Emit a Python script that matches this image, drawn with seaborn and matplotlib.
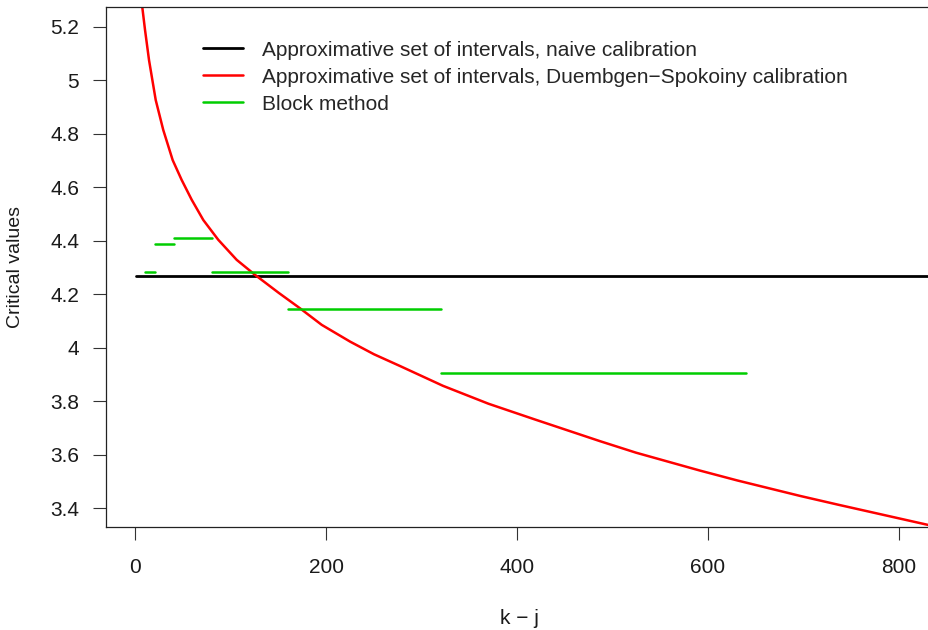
import matplotlib
matplotlib.use("Agg")
import matplotlib.pyplot as plt
from matplotlib.lines import Line2D
import seaborn as sns
import pandas as pd

# ---- data ----
ds_x = [5, 7.1, 10.0, 14.2, 21.2, 29.1, 39.0, 48.4, 58.9, 71.1, 86.8, 106.1,
        125.3, 150.0, 172.4, 195.2, 225.1, 250.0, 277.3, 322.3, 370.0, 418.8,
        486.9, 524.6, 591.7, 630.9, 696.9, 737.0, 831.8, 840]
ds_y = [5.34, 5.274, 5.188, 5.075, 4.926, 4.814, 4.701, 4.627, 4.553, 4.477,
        4.403, 4.328, 4.272, 4.205, 4.147, 4.085, 4.022, 3.975, 3.931, 3.857,
        3.790, 3.731, 3.650, 3.607, 3.540, 3.503, 3.445, 3.412, 3.336, 3.330]

naive_x = [1, 840]
naive_y = [4.267, 4.267]

block_start = [10, 20, 40, 80, 160, 320]
block_end = [20, 40, 80, 160, 320, 640]
block_val = [4.281, 4.386, 4.409, 4.281, 4.146, 3.904]

x_ticks = [0, 200, 400, 600, 800]
y_ticks = [3.4, 3.6, 3.8, 4.0, 4.2, 4.4, 4.6, 4.8, 5.0, 5.2]
y_tick_labels = ["3.4", "3.6", "3.8", "4", "4.2", "4.4", "4.6", "4.8", "5", "5.2"]

legend_labels = [
    "Approximative set of intervals, naive calibration",
    "Approximative set of intervals, Duembgen\u2212Spokoiny calibration",
    "Block method",
]

RED = "#FF0000"
GREEN = "#00CD00"
BLACK = "#000000"
FS = 15

sns.set_style("white")
plt.rcParams["font.family"] = ["Liberation Sans", "DejaVu Sans"]
plt.rcParams["font.size"] = FS

W, H = 929, 630
fig = plt.figure(figsize=(W / 100, H / 100), dpi=100)
left_px, right_px, top_px, bot_px = 106, 932, 7, 527
ax = fig.add_axes([left_px / W, 1 - bot_px / H, (right_px - left_px) / W,
                   (bot_px - top_px) / H])

df_ds = pd.DataFrame({"x": ds_x, "y": ds_y})
df_naive = pd.DataFrame({"x": naive_x, "y": naive_y})
seg_rows = []
for i, (s, e, v) in enumerate(zip(block_start, block_end, block_val)):
    seg_rows.append({"x": s, "y": v, "seg": i})
    seg_rows.append({"x": e, "y": v, "seg": i})
df_block = pd.DataFrame(seg_rows)

sns.lineplot(data=df_naive, x="x", y="y", color=BLACK, lw=2.0, ax=ax,
             estimator=None, sort=False)
sns.lineplot(data=df_ds, x="x", y="y", color=RED, lw=1.8, ax=ax,
             estimator=None, sort=False)
sns.lineplot(data=df_block, x="x", y="y", units="seg", color=GREEN, lw=1.8,
             ax=ax, estimator=None, sort=False)

ax.set_xlim(-30.9, 834.9)
ax.set_ylim(3.329, 5.2737)
ax.set_xticks(x_ticks)
ax.set_xticklabels([str(t) for t in x_ticks])
ax.set_yticks(y_ticks)
ax.set_yticklabels(y_tick_labels)
ax.set_xlabel("")
ax.set_ylabel("")

for sp in ax.spines.values():
    sp.set_visible(True)
    sp.set_color("#222222")
    sp.set_linewidth(0.9)

ax.tick_params(axis="both", which="both", direction="out", length=9.4,
               width=0.8, color="#333333", labelsize=FS, labelcolor="#1a1a1a",
               left=True, bottom=True)
ax.tick_params(axis="y", pad=10)
ax.tick_params(axis="x", pad=13)

fig.text(16 / W, 1 - ((top_px + bot_px) / 2) / H, "Critical values",
         rotation=90, ha="center", va="center", fontsize=14, color="#1a1a1a")
fig.text(519 / W, 1 - 618 / H, "k \u2212 j", ha="center", va="center",
         fontsize=FS, color="#1a1a1a")

handles = [Line2D([], [], color=BLACK, lw=2.0),
           Line2D([], [], color=RED, lw=1.8),
           Line2D([], [], color=GREEN, lw=1.8)]
ax.legend(handles, legend_labels, loc="upper left",
          bbox_to_anchor=(202.7 / W, 1 - 40.5 / H), bbox_transform=fig.transFigure,
          frameon=False, borderpad=0, borderaxespad=0, handlelength=1.92,
          handletextpad=0.91, labelspacing=0.385, fontsize=FS)

fig.savefig("out.png", dpi=100)
